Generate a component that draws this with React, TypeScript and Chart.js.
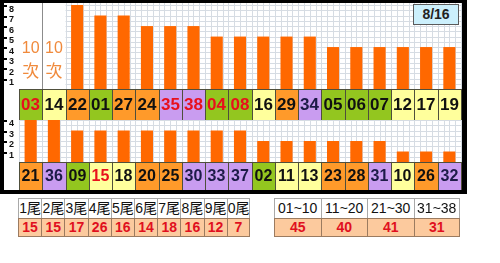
import React, { useEffect, useRef } from 'react';
import { Chart, registerables } from 'chart.js';

Chart.register(...registerables);

// ---- data ----
const topNumbers = ['03', '14', '22', '01', '27', '24', '35', '38', '04', '08', '16', '29', '34', '05', '06', '07', '12', '17', '19'];
const topCounts = [10, 10, 8, 7, 7, 6, 6, 6, 5, 5, 5, 5, 5, 4, 4, 4, 4, 4, 4];
const bottomNumbers = ['21', '36', '09', '15', '18', '20', '25', '30', '33', '37', '02', '11', '13', '23', '28', '31', '10', '26', '32'];
const bottomCounts = [4, 4, 3, 3, 3, 3, 3, 3, 3, 3, 2, 2, 2, 2, 2, 2, 1, 1, 1];
const highlighted = ['03', '35', '38', '04', '08', '15'];
const topTicks = [1, 2, 3, 4, 5, 6, 7, 8];
const bottomTicks = [1, 2, 3, 4];
const tailLabels = ['1尾', '2尾', '3尾', '4尾', '5尾', '6尾', '7尾', '8尾', '9尾', '0尾'];
const tailCounts = [15, 15, 17, 26, 16, 14, 18, 16, 12, 7];
const rangeLabels = ['01~10', '11~20', '21~30', '31~38'];
const rangeCounts = [45, 40, 41, 31];
const dateLabel = '8/16';
const overflowUnit = '次';

const FONT = '"Liberation Sans", Arial, sans-serif';
const CJK = '"Noto Sans CJK TC", "Noto Sans CJK SC", sans-serif';

function groupFill(num: string) {
  const n = parseInt(num, 10);
  if (n < 10) return '#93c61f';
  if (n < 20) return '#ffff9c';
  if (n < 30) return '#ff9a2a';
  return '#c99cf0';
}

function numberInk(num: string) {
  if (highlighted.includes(num)) return '#e8101c';
  return parseInt(num, 10) >= 30 ? '#1d1b48' : '#111111';
}

// grid behind the bars, number strip + overflow notes on top
const panelPlugin = {
  id: 'panel',
  beforeDatasetsDraw(chart: any) {
    const o = chart.options.plugins.panel;
    const { ctx } = chart;
    const { left, right, top, bottom } = chart.chartArea;
    const yScale = chart.scales.y;
    const n = o.numbers.length;
    const colW = (right - left) / n;
    const gx0 = left + colW * o.gridFrom;
    ctx.save();
    ctx.lineWidth = 1;
    ctx.strokeStyle = '#d6dce3';
    ctx.beginPath();
    for (let i = o.gridFrom * 4; i <= n * 4; i++) {
      const px = Math.round(left + (colW * i) / 4) + 0.5;
      ctx.moveTo(px, top);
      ctx.lineTo(px, bottom);
    }
    for (let v = 0.5; v <= yScale.max; v += 0.5) {
      const py = Math.round(yScale.getPixelForValue(v)) + 0.5;
      ctx.moveTo(gx0, py);
      ctx.lineTo(right, py);
    }
    ctx.stroke();
    if (o.gridFrom > 0) {
      ctx.strokeStyle = '#8c8c8c';
      ctx.beginPath();
      for (let i = 1; i < o.gridFrom; i++) {
        const px = Math.round(left + colW * i) + 0.5;
        ctx.moveTo(px, top);
        ctx.lineTo(px, bottom);
      }
      ctx.stroke();
    }
    ctx.restore();
  },
  afterDatasetsDraw(chart: any) {
    const o = chart.options.plugins.panel;
    const { ctx } = chart;
    const { left, right, top, bottom } = chart.chartArea;
    const xScale = chart.scales.x;
    const yScale = chart.scales.y;
    const n = o.numbers.length;
    const colW = (right - left) / n;
    ctx.save();
    ctx.textAlign = 'center';
    ctx.textBaseline = 'middle';

    // counts beyond the axis are written out instead of drawn
    o.counts.forEach((c: number, i: number) => {
      if (c <= yScale.max) return;
      const cx = xScale.getPixelForValue(i);
      ctx.fillStyle = '#f08a3c';
      ctx.font = `16px ${FONT}`;
      ctx.fillText(String(c), cx, top + (bottom - top) * 0.53);
      ctx.font = `17px ${CJK}`;
      ctx.fillText(overflowUnit, cx, top + (bottom - top) * 0.79);
    });

    // number strip under the bars
    const rowTop = bottom;
    const rowBottom = chart.height;
    o.numbers.forEach((num: string, i: number) => {
      const x0 = Math.round(left + colW * i);
      const x1 = Math.round(left + colW * (i + 1));
      ctx.fillStyle = groupFill(num);
      ctx.fillRect(x0, rowTop, x1 - x0, rowBottom - rowTop);
      ctx.strokeStyle = '#4f4f3c';
      ctx.lineWidth = 1;
      ctx.strokeRect(x0 + 0.5, rowTop + 0.5, x1 - x0, rowBottom - rowTop);
      ctx.fillStyle = numberInk(num);
      ctx.font = `bold ${o.labelSize}px ${FONT}`;
      ctx.fillText(num, (x0 + x1) / 2, (rowTop + rowBottom) / 2 + 1);
    });

    // small notches on the frame at each tick
    ctx.fillStyle = '#000';
    o.ticks.forEach((v: number) => {
      const py = Math.round(yScale.getPixelForValue(v));
      ctx.fillRect(0, py, 3, 2);
    });
    ctx.restore();
  },
};

type PanelProps = {
  numbers: string[];
  counts: number[];
  ticks: number[];
  max: number;
  gridFrom: number;
  labelSize: number;
  top: number;
  height: number;
  rowHeight: number;
};

function Panel({ numbers, counts, ticks, max, gridFrom, labelSize, top, height, rowHeight }: PanelProps) {
  const ref = useRef<HTMLCanvasElement | null>(null);
  useEffect(() => {
    if (!ref.current) return;
    const chart = new Chart(ref.current, {
      type: 'bar',
      data: {
        labels: numbers,
        datasets: [
          {
            data: counts.map((c) => (c > max ? null : c)),
            backgroundColor: '#ff6800',
            barPercentage: 0.52,
            categoryPercentage: 1,
          },
        ],
      },
      options: {
        responsive: false,
        animation: false,
        layout: { padding: { left: 0, right: 1, top: 0, bottom: rowHeight } },
        plugins: {
          legend: { display: false },
          tooltip: { enabled: false },
          panel: { numbers, counts, ticks, gridFrom, labelSize },
        } as any,
        scales: {
          x: { type: 'category', display: false, offset: true },
          y: {
            min: 0,
            max,
            position: 'left',
            grid: { display: false, drawTicks: false },
            border: { display: false },
            afterBuildTicks: (s: any) => {
              s.ticks = ticks.map((v) => ({ value: v }));
            },
            afterFit: (s: any) => {
              s.width = 15;
              s.paddingTop = 0;
              s.paddingBottom = 0;
            },
            ticks: {
              autoSkip: false,
              font: { family: FONT, size: 9, weight: 'bold' },
              color: '#111',
              padding: 5,
              labelOffset: 4,
            },
          } as any,
        },
      },
      plugins: [panelPlugin],
    });
    return () => chart.destroy();
  }, []);
  return (
    <canvas
      ref={ref}
      width={458}
      height={height}
      style={{ position: 'absolute', left: 4, top, width: 458, height, background: '#fff' }}
    />
  );
}

type TableProps = { left: number; width: number; headers: string[]; values: number[] };

function SummaryTable({ left, width, headers, values }: TableProps) {
  const cellW = width / headers.length;
  const last = headers.length - 1;
  return (
    <div style={{ position: 'absolute', left, top: 198, width }}>
      <div style={{ display: 'flex' }}>
        {headers.map((h, i) => (
          <div
            key={h}
            style={{
              width: cellW,
              height: 20,
              boxSizing: 'border-box',
              borderTop: '1px solid #a9a9a9',
              borderLeft: '1px solid #a9a9a9',
              borderRight: i === last ? '1px solid #a9a9a9' : 'none',
              background: '#fff',
              color: '#111',
              font: `14px ${FONT}, ${CJK}`,
              lineHeight: '19px',
              textAlign: 'center',
              whiteSpace: 'nowrap',
              overflow: 'hidden',
            }}
          >
            {h}
          </div>
        ))}
      </div>
      <div style={{ display: 'flex' }}>
        {values.map((v, i) => (
          <div
            key={i}
            style={{
              width: cellW,
              height: 19,
              boxSizing: 'border-box',
              borderTop: '1px solid #9b7b60',
              borderBottom: '1px solid #9b7b60',
              borderLeft: '1px solid #9b7b60',
              borderRight: i === last ? '1px solid #9b7b60' : 'none',
              background: '#fcca9e',
              color: '#e0101e',
              font: `bold 14px ${FONT}`,
              lineHeight: '17px',
              textAlign: 'center',
            }}
          >
            {v}
          </div>
        ))}
      </div>
    </div>
  );
}

export default function App() {
  return (
    <div style={{ position: 'absolute', left: 0, top: 0, width: 500, height: 263, background: '#fff', overflow: 'hidden' }}>
      <div style={{ position: 'absolute', left: 0, top: 0, width: 467, height: 194, background: '#000' }} />
      <Panel
        numbers={topNumbers}
        counts={topCounts}
        ticks={topTicks}
        max={8.2}
        gridFrom={2}
        labelSize={17}
        top={3}
        height={117}
        rowHeight={31}
      />
      <Panel
        numbers={bottomNumbers}
        counts={bottomCounts}
        ticks={bottomTicks}
        max={4}
        gridFrom={0}
        labelSize={16}
        top={120}
        height={70}
        rowHeight={28}
      />
      <div
        style={{
          position: 'absolute',
          left: 413,
          top: 4,
          width: 46,
          height: 21,
          boxSizing: 'border-box',
          border: '1px solid #5a5a5a',
          background: '#ccf0fc',
          color: '#222',
          font: `bold 14px ${FONT}`,
          lineHeight: '19px',
          textAlign: 'center',
        }}
      >
        {dateLabel}
      </div>
      <SummaryTable left={18} width={232} headers={tailLabels} values={tailCounts} />
      <SummaryTable left={274} width={186} headers={rangeLabels} values={rangeCounts} />
    </div>
  );
}
